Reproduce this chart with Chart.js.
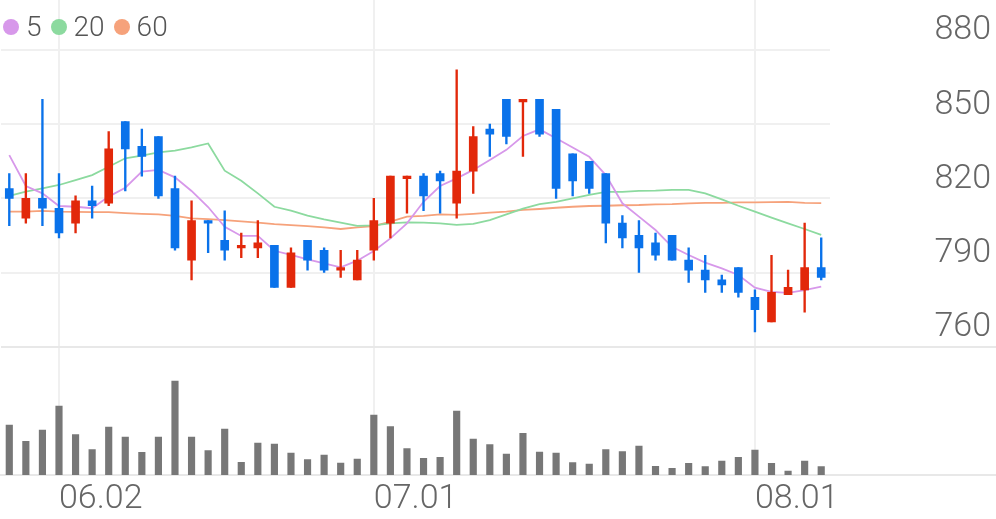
<!DOCTYPE html>
<html>
<head>
<meta charset="utf-8">
<script src="https://cdn.jsdelivr.net/npm/chart.js@4.4.1/dist/chart.umd.min.js"></script>
<style>
  body { margin: 0; background: #fff; }
  #wrap { position: relative; width: 996px; height: 519px; }
  #legend { position: absolute; left: 3px; top: 10px; display: flex; align-items: center;
            font: 300 28px Roboto, sans-serif; color: #555; line-height: 34px; }
  #legend .item { display: flex; align-items: center; margin-right: 9px; }
  #legend i { display: inline-block; width: 16px; height: 16px; border-radius: 50%; margin-right: 7px; }
</style>
</head>
<body>
<div id="wrap">
  <canvas id="stockChart"></canvas>
  <div id="legend"></div>
</div>
<script>
// ==========================
// DADOS (datas, OHLC, volume, médias móveis)
// ==========================
const dates = ["05.28", "05.29", "05.30", "06.02", "06.04", "06.05", "06.09", "06.10", "06.11", "06.12",
  "06.13", "06.16", "06.17", "06.18", "06.19", "06.20", "06.23", "06.24", "06.25", "06.26",
  "06.27", "06.30", "07.01", "07.02", "07.03", "07.04", "07.07", "07.08", "07.09", "07.10",
  "07.11", "07.14", "07.15", "07.16", "07.17", "07.18", "07.21", "07.22", "07.23", "07.24",
  "07.25", "07.28", "07.29", "07.30", "07.31", "08.01", "08.04", "08.05", "08.06", "08.07"]

const opens = [824, 812, 820, 816, 810, 819, 818, 851, 841, 845, 824, 795, 811, 803, 800, 800, 801, 784, 803, 799,
  791, 787, 799, 810, 828, 829, 830, 818, 831, 848, 860, 859, 860, 856, 838, 835, 830, 810, 805, 802,
  805, 795, 791, 787, 792, 780, 770, 781, 783, 792]
const closes = [820, 820, 816, 806, 819, 817, 840, 840, 837, 821, 800, 811, 810, 799, 801, 802, 784, 798, 795, 791,
  792, 795, 811, 829, 829, 821, 827, 831, 845, 846, 845, 860, 846, 824, 827, 824, 810, 804, 800, 797,
  795, 791, 787, 785, 782, 775, 782, 784, 792, 788]
const highs = [830, 830, 860, 830, 821, 825, 847, 851, 848, 845, 829, 819, 811, 815, 806, 811, 801, 800, 803, 800,
  799, 799, 820, 829, 829, 830, 831, 872, 849, 850, 860, 860, 860, 856, 838, 835, 830, 813, 811, 806,
  805, 800, 797, 789, 792, 783, 797, 791, 810, 804]
const lows = [809, 810, 809, 804, 806, 812, 817, 823, 829, 820, 799, 787, 798, 795, 796, 796, 784, 784, 791, 790,
  788, 787, 795, 804, 814, 815, 814, 812, 822, 837, 842, 837, 845, 820, 821, 822, 802, 800, 790, 795,
  795, 786, 782, 782, 780, 766, 770, 781, 774, 787]

// volume em milhares de ações
const volumes = [1000, 674, 900, 1380, 806, 506, 960, 760, 454, 760, 1880, 760, 486, 920, 254, 640, 620, 440, 306, 400,
  240, 320, 1200, 966, 526, 334, 354, 1280, 720, 606, 420, 834, 460, 440, 246, 220, 506, 466, 580, 174,
  134, 234, 166, 280, 354, 500, 234, 80, 280, 166]

const ma5 = [837.5, 825, 822, 816.9, 816.6, 816, 820.7, 824.3, 830.8, 831.5, 828.5, 823, 816.5, 808.5, 804.8, 804.8, 798.8, 797.1, 795.3, 793.7,
  792.1, 794.8, 798.7, 803.8, 809.9, 818.6, 825, 828.1, 831.5, 835.5, 839.6, 845.2, 847.9, 844.3, 840.6, 836.8, 829.4, 818, 812.6, 807.2,
  800.4, 797.1, 794, 791.7, 789, 783.9, 782.2, 781.8, 782.9, 784.3]
const ma20 = [821, 822.7, 824, 825.4, 827.4, 829.4, 832.8, 836.2, 837.3, 838.6, 839.3, 840.6, 842.2, 831.2, 827.1, 822, 816.6, 815, 813, 811.5,
  810.2, 808.9, 809.1, 809.9, 810.3, 810.2, 809.9, 809.3, 809.7, 811.2, 813.5, 815.8, 817.7, 818.6, 820, 821.4, 822.6, 822.6, 823, 823.1,
  823.4, 823.4, 822, 819.6, 817, 814.6, 812.2, 809.9, 807.6, 805.2]
const ma60 = [814.6, 814.6, 814.9, 814.6, 814.5, 814.4, 814.4, 814, 813.7, 813.5, 812.9, 811.9, 811.6, 811.2, 810.7, 810.2, 809.6, 809.2, 808.8, 808.3,
  807.6, 808.3, 808.8, 810.6, 812.6, 812.9, 813.5, 813.3, 813.7, 814.2, 814.6, 815.3, 815.7, 816.2, 816.6, 816.9, 817, 817.2, 817.3, 817.6,
  817.7, 818, 818.2, 818.2, 818.4, 818.4, 818.5, 818.6, 818.2, 818.1]

const priceTicks = [760, 790, 820, 850, 880]

// ==========================
// CORES
// ==========================
const UP = "#e2280a"     // alta (vermelho)
const DOWN = "#0a72ea"   // baixa (azul)
const GRID = "#f0f0f0"
const LINE = "#e8e8e8"
const candleColors = opens.map((o, i) => (closes[i] >= o ? UP : DOWN))

// primeiro pregão do mês -> mostra rótulo e linha vertical
const isMonthStart = (i) => i > 0 && dates[i].slice(0, 2) !== dates[i - 1].slice(0, 2)

const ctx = document.getElementById("stockChart").getContext("2d")
Chart.defaults.font.family = "Roboto, sans-serif"

const stockChart = new Chart(ctx, {
  type: "bar",
  data: {
    labels: dates,
    datasets: [
      {
        label: "corpo",
        data: opens.map((o, i) => [o, closes[i]]),
        backgroundColor: candleColors,
        barThickness: 8,
        minBarLength: 2,
        grouped: false,
        yAxisID: "y",
      },
      {
        label: "pavio",
        data: lows.map((l, i) => [l, highs[i]]),
        backgroundColor: candleColors,
        barThickness: 1.7,
        grouped: false,
        yAxisID: "y",
      },
      {
        label: "volume",
        data: volumes,
        backgroundColor: "#777777",
        barThickness: 6.5,
        grouped: false,
        yAxisID: "yv",
      },
      { type: "line", label: "5", data: ma5, borderColor: "#d798ea", backgroundColor: "#d798ea", borderWidth: 1.8, pointRadius: 0, tension: 0, yAxisID: "y" },
      { type: "line", label: "20", data: ma20, borderColor: "#8cda9f", backgroundColor: "#8cda9f", borderWidth: 1.8, pointRadius: 0, tension: 0, yAxisID: "y" },
      { type: "line", label: "60", data: ma60, borderColor: "#f6a27b", backgroundColor: "#f6a27b", borderWidth: 1.8, pointRadius: 0, tension: 0, yAxisID: "y" },
    ],
  },
  options: {
    responsive: true,
    maintainAspectRatio: false,
    animation: false,
    events: [],
    layout: { padding: { left: 1, top: 0, right: 0, bottom: 0 } },
    plugins: {
      legend: { display: false },
      tooltip: { enabled: false },
    },
    scales: {
      x: {
        offset: true,
        grid: {
          offset: false,
          drawTicks: false,
          lineWidth: 2,
          color: (c) => (isMonthStart(c.index) ? GRID : "transparent"),
        },
        border: { color: LINE, width: 2 },
        ticks: {
          autoSkip: false,
          maxRotation: 0,
          align: "start",
          padding: 4,
          color: "#666",
          font: { size: 34, weight: "300" },
          callback: (v, i) => (isMonthStart(i) ? dates[i] : ""),
        },
        afterFit: (scale) => {
          scale.height = 44
          scale.paddingLeft = 0
          scale.paddingRight = 0
        },
      },
      y: {
        position: "right",
        min: 708.11,
        max: 900.22,
        afterBuildTicks: (scale) => {
          scale.ticks = [scale.min, ...priceTicks].map((v) => ({ value: v }))
        },
        grid: {
          lineWidth: 2,
          color: (c) => (c.tick.value <= 760 ? LINE : GRID),
          drawTicks: true,
          tickLength: 167,
          tickColor: (c) => (c.tick.value <= 760 ? LINE : "transparent"),
        },
        border: { display: false },
        ticks: {
          padding: -62,
          labelOffset: -19,
          color: "#666",
          font: { size: 34, weight: "300" },
          callback: (v) => (priceTicks.includes(v) ? v : ""),
        },
        afterFit: (scale) => {
          scale.width = 166.5
          scale.paddingTop = 0
          scale.paddingBottom = 0
        },
      },
      yv: { display: false, min: 0, max: 9500 },
    },
  },
})

// ==========================
// LEGENDA (médias móveis)
// ==========================
const legendEl = document.getElementById("legend")
stockChart.data.datasets.filter((d) => d.type === "line").forEach((d) => {
  const item = document.createElement("span")
  item.className = "item"
  item.innerHTML = `<i style="background:${d.borderColor}"></i>${d.label}`
  legendEl.appendChild(item)
})
</script>
</body>
</html>
